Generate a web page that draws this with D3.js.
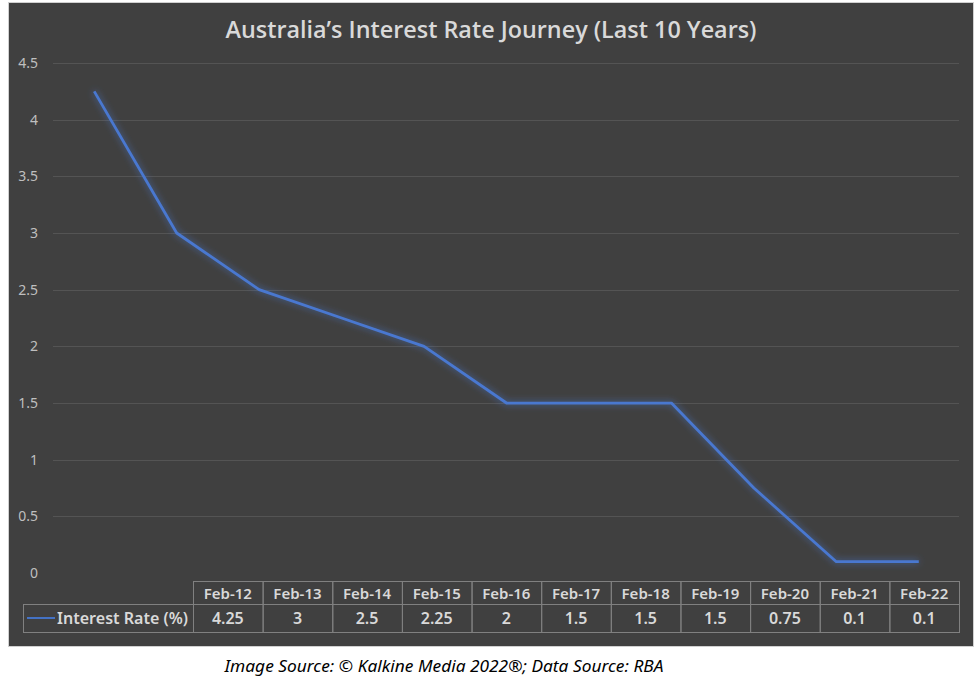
<!DOCTYPE html>
<html>
<head>
<meta charset="utf-8">
<script src="https://cdn.jsdelivr.net/npm/d3@7"></script>
<style>
  body { margin: 0; background: #ffffff; }
  svg { display: block; }
</style>
</head>
<body>
<div id="chart"></div>
<script>
var categories = ["Feb-12", "Feb-13", "Feb-14", "Feb-15", "Feb-16", "Feb-17", "Feb-18", "Feb-19", "Feb-20", "Feb-21", "Feb-22"];
var rates = [4.25, 3, 2.5, 2.25, 2, 1.5, 1.5, 1.5, 0.75, 0.1, 0.1];
var rateLabels = ["4.25", "3", "2.5", "2.25", "2", "1.5", "1.5", "1.5", "0.75", "0.1", "0.1"];
var yTicks = [0, 0.5, 1, 1.5, 2, 2.5, 3, 3.5, 4, 4.5];
var seriesName = "Interest Rate (%)";

var width = 975, height = 691;
var font = "'Noto Sans', 'Liberation Sans', sans-serif";

var svg = d3.select("#chart").append("svg")
    .attr("width", width)
    .attr("height", height);

// glow for the line
var defs = svg.append("defs");
var glow = defs.append("filter").attr("id", "glow")
    .attr("x", "-10%").attr("y", "-10%").attr("width", "120%").attr("height", "120%");
glow.append("feGaussianBlur").attr("in", "SourceGraphic").attr("stdDeviation", 3.5).attr("result", "blur");
glow.append("feComponentTransfer").attr("in", "blur").attr("result", "soft")
    .append("feFuncA").attr("type", "linear").attr("slope", 0.8);
var merge = glow.append("feMerge");
merge.append("feMergeNode").attr("in", "soft");
merge.append("feMergeNode").attr("in", "SourceGraphic");

// panel
svg.append("rect")
    .attr("x", 8.5).attr("y", 2.5)
    .attr("width", 965).attr("height", 644)
    .attr("fill", "#404040")
    .attr("stroke", "#d0d0d0");

svg.append("text")
    .attr("x", 491).attr("y", 38)
    .attr("text-anchor", "middle")
    .attr("textLength", 531)
    .attr("lengthAdjust", "spacingAndGlyphs")
    .style("font-family", "'Open Sans', 'Liberation Sans', sans-serif")
    .style("font-weight", "600")
    .style("font-size", "24px")
    .style("fill", "#d9d9d9")
    .text("Australia\u2019s Interest Rate Journey (Last 10 Years)");

var x = d3.scalePoint()
    .domain(categories)
    .range([53, 960])
    .padding(0.5);

var y = d3.scaleLinear()
    .domain([0, 4.5])
    .range([573, 63]);

// gridlines
svg.append("g")
    .selectAll("line")
    .data(yTicks)
    .enter().append("line")
    .attr("x1", 53).attr("x2", 959)
    .attr("y1", function(d) { return Math.round(y(d)) + 0.5; })
    .attr("y2", function(d) { return Math.round(y(d)) + 0.5; })
    .attr("stroke", function(d) { return d === 0 ? "none" : "#545454"; })
    .attr("stroke-width", 1);

// y axis labels
var yAxis = svg.append("g")
    .attr("transform", "translate(38,0)")
    .call(d3.axisLeft(y).tickValues(yTicks).tickSize(0).tickPadding(0).tickFormat(d3.format("")));
yAxis.select(".domain").remove();
yAxis.selectAll("text")
    .style("font-family", font)
    .style("font-size", "14px")
    .style("fill", "#bfbfbf");

// line
var line = d3.line()
    .x(function(d, i) { return x(categories[i]); })
    .y(function(d) { return y(d); });

svg.append("path")
    .datum(rates)
    .attr("d", line)
    .attr("fill", "none")
    .attr("stroke", "#4a78d0")
    .attr("stroke-width", 2.75)
    .attr("stroke-linejoin", "round")
    .attr("filter", "url(#glow)");

// data table
var col = d3.scaleBand()
    .domain(categories)
    .range([193, 959]);

var rowTop = 581, rowMid = 604, rowBot = 632;
var table = svg.append("g");

table.selectAll(".head")
    .data(categories)
    .enter().append("rect")
    .attr("class", "head")
    .attr("x", function(d) { return col(d) + 0.5; })
    .attr("y", rowTop + 0.5)
    .attr("width", col.bandwidth())
    .attr("height", rowMid - rowTop)
    .attr("fill", "none")
    .attr("stroke", "#808080");

table.selectAll(".cell")
    .data(categories)
    .enter().append("rect")
    .attr("class", "cell")
    .attr("x", function(d) { return col(d) + 0.5; })
    .attr("y", rowMid + 0.5)
    .attr("width", col.bandwidth())
    .attr("height", rowBot - rowMid)
    .attr("fill", "none")
    .attr("stroke", "#808080");

table.append("rect")
    .attr("x", 23.5).attr("y", rowMid + 0.5)
    .attr("width", 193 - 23).attr("height", rowBot - rowMid)
    .attr("fill", "none")
    .attr("stroke", "#808080");

table.selectAll(".headText")
    .data(categories)
    .enter().append("text")
    .attr("x", function(d) { return col(d) + col.bandwidth() / 2; })
    .attr("y", 599)
    .attr("text-anchor", "middle")
    .style("font-family", font)
    .style("font-weight", "600")
    .style("font-size", "15px")
    .style("fill", "#d9d9d9")
    .text(function(d) { return d; });

table.selectAll(".valText")
    .data(rateLabels)
    .enter().append("text")
    .attr("x", function(d, i) { return col(categories[i]) + col.bandwidth() / 2; })
    .attr("y", 624)
    .attr("text-anchor", "middle")
    .style("font-family", font)
    .style("font-weight", "600")
    .style("font-size", "16px")
    .style("fill", "#d9d9d9")
    .text(function(d) { return d; });

table.append("line")
    .attr("x1", 27).attr("x2", 55)
    .attr("y1", 618).attr("y2", 618)
    .attr("stroke", "#4472c4")
    .attr("stroke-width", 2);

table.append("text")
    .attr("x", 57).attr("y", 624)
    .attr("textLength", 131)
    .attr("lengthAdjust", "spacingAndGlyphs")
    .style("font-family", font)
    .style("font-weight", "600")
    .style("font-size", "16px")
    .style("fill", "#d9d9d9")
    .text(seriesName);

// source note
svg.append("text")
    .attr("x", 444).attr("y", 672)
    .attr("text-anchor", "middle")
    .attr("textLength", 439)
    .attr("lengthAdjust", "spacingAndGlyphs")
    .style("font-family", font)
    .style("font-style", "italic")
    .style("font-size", "17px")
    .style("fill", "#000000")
    .text("Image Source: \u00a9 Kalkine Media 2022\u00ae; Data Source: RBA");
</script>
</body>
</html>
